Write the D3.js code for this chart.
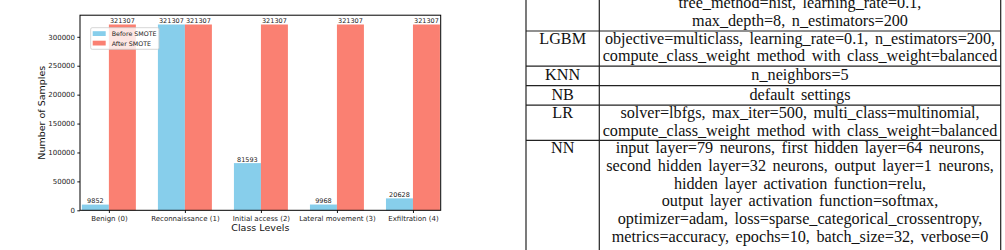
<!DOCTYPE html>
<html>
<head>
<meta charset="utf-8">
<script src="https://cdn.jsdelivr.net/npm/d3@7"></script>
<style>
  body { margin: 0; background: #fff; }
  svg { display: block; }
</style>
</head>
<body>
<div id="chart"></div>
<script>
var width = 1005
var height = 250

// bar chart data
var classes = ['Benign (0)', 'Reconnaissance (1)', 'Initial access (2)', 'Lateral movement (3)', 'Exfiltration (4)']
var beforeSmote = [9852, 321307, 81593, 9968, 20628]
var afterSmote = [321307, 321307, 321307, 321307, 321307]
var yTicks = [0, 50000, 100000, 150000, 200000, 250000, 300000]
var seriesNames = ['Before SMOTE', 'After SMOTE']

// table data (top row is cut off by the frame, its model name is not visible)
var models = ['', 'LGBM', 'KNN', 'NB', 'LR', 'NN']
var params = [
    ['tree_method=hist, learning_rate=0.1,', 'max_depth=8, n_estimators=200'],
    ['objective=multiclass, learning_rate=0.1, n_estimators=200,', 'compute_class_weight method with class_weight=balanced'],
    ['n_neighbors=5'],
    ['default settings'],
    ['solver=lbfgs, max_iter=500, multi_class=multinomial,', 'compute_class_weight method with class_weight=balanced'],
    ['input layer=79 neurons, first hidden layer=64 neurons,', 'second hidden layer=32 neurons, output layer=1 neurons,',
     'hidden layer activation function=relu,', 'output layer activation function=softmax,',
     'optimizer=adam, loss=sparse_categorical_crossentropy,', 'metrics=accuracy, epochs=10, batch_size=32, verbose=0']
]

var blue = '#87ceeb'
var salmon = '#fa8072'

var svg = d3.select('#chart').append('svg')
    .attr('width', width)
    .attr('height', height)

// ---------- bar chart ----------
var plot = { left: 80, right: 440.7, top: 15.2, bottom: 210.3 }

var xScale = d3.scaleLinear()
    .domain([-0.38, 4.365])
    .range([plot.left, plot.right])

var yScale = d3.scaleLinear()
    .domain([0, 321307 * 1.05])
    .range([plot.bottom, plot.top])

var barW = 0.355

var g = svg.append('g').style('font-family', 'DejaVu Sans, sans-serif')

var bars = g.append('g')
bars.selectAll('rect.before')
    .data(beforeSmote)
    .enter().append('rect')
    .attr('class', 'before')
    .attr('x', (d, i) => xScale(i - barW))
    .attr('width', xScale(barW) - xScale(0))
    .attr('y', d => yScale(d))
    .attr('height', d => yScale(0) - yScale(d))
    .attr('fill', blue)

bars.selectAll('rect.after')
    .data(afterSmote)
    .enter().append('rect')
    .attr('class', 'after')
    .attr('x', (d, i) => xScale(i))
    .attr('width', xScale(barW) - xScale(0))
    .attr('y', d => yScale(d))
    .attr('height', d => yScale(0) - yScale(d))
    .attr('fill', salmon)

// value labels
var labels = g.append('g')
    .attr('font-size', 6.5)
    .attr('fill', '#222')
    .attr('text-anchor', 'middle')

labels.selectAll('text.before')
    .data(beforeSmote)
    .enter().append('text')
    .attr('x', (d, i) => xScale(i - barW / 2))
    .attr('y', d => yScale(d) - 1.5)
    .text(d => d)

labels.selectAll('text.after')
    .data(afterSmote)
    .enter().append('text')
    .attr('x', (d, i) => xScale(i + barW / 2))
    .attr('y', d => yScale(d) - 1.5)
    .text(d => d)

// axes
var yAxis = d3.axisLeft(yScale)
    .tickValues(yTicks)
    .tickFormat(d3.format('d'))
    .tickSize(2.7)
    .tickPadding(2.3)

var xAxis = d3.axisBottom(xScale)
    .tickValues(d3.range(classes.length))
    .tickFormat(i => classes[i])
    .tickSize(2.7)
    .tickPadding(3)

var gy = g.append('g')
    .attr('transform', `translate(${plot.left},0)`)
    .call(yAxis)
var gx = g.append('g')
    .attr('transform', `translate(0,${plot.bottom})`)
    .call(xAxis)

;[gx, gy].forEach(a => {
    a.select('.domain').remove()
    a.selectAll('text').attr('font-size', 7).attr('font-family', 'DejaVu Sans, sans-serif').attr('fill', '#222')
    a.selectAll('line').attr('stroke', '#000').attr('stroke-width', 0.9)
})

// spines
g.append('rect')
    .attr('x', plot.left)
    .attr('y', plot.top)
    .attr('width', plot.right - plot.left)
    .attr('height', plot.bottom - plot.top)
    .attr('fill', 'none')
    .attr('stroke', '#000')
    .attr('stroke-width', 1)

// axis titles
g.append('text')
    .attr('x', (plot.left + plot.right) / 2)
    .attr('y', 231.2)
    .attr('text-anchor', 'middle')
    .attr('font-size', 9.5)
    .attr('fill', '#111')
    .text('Class Levels')

g.append('text')
    .attr('transform', `translate(44.6,${(plot.top + plot.bottom) / 2}) rotate(-90)`)
    .attr('text-anchor', 'middle')
    .attr('font-size', 9.5)
    .attr('fill', '#111')
    .text('Number of Samples')

// legend
var legend = g.append('g').attr('transform', 'translate(90.7,27.7)')
legend.append('rect')
    .attr('width', 68.3)
    .attr('height', 21.6)
    .attr('rx', 1.5)
    .attr('fill', '#fff')
    .attr('fill-opacity', 0.8)
    .attr('stroke', '#ccc')
    .attr('stroke-width', 0.8)

var items = legend.selectAll('g.item')
    .data(seriesNames)
    .enter().append('g')
    .attr('class', 'item')
    .attr('transform', (d, i) => `translate(2,${3.5 + i * 9.5})`)
items.append('rect')
    .attr('width', 13)
    .attr('height', 4.8)
    .attr('fill', (d, i) => i === 0 ? blue : salmon)
items.append('text')
    .attr('x', 19)
    .attr('y', 4.9)
    .attr('font-size', 6.3)
    .attr('fill', '#222')
    .text(d => d)

// ---------- table ----------
var colX = [526, 599.3, 1000.7]
var lineH = 17.8
var fontSize = 16.2

var rowHeights = params.map(p => Math.max(19.5, p.length * lineH - 0.4))
// the LGBM row starts at y=31, rows before it go up out of the frame
var rowTops = []
var y0 = 31 - rowHeights[0]
rowHeights.forEach((h, i) => { rowTops.push(y0); y0 += h })

var tbl = svg.append('g')
    .style('font-family', '"Liberation Serif", "Times New Roman", serif')
    .style('word-spacing', '2.5px')
    .attr('font-size', fontSize)
    .attr('fill', '#111')

var rows = tbl.selectAll('g.row')
    .data(params)
    .enter().append('g')
    .attr('class', 'row')
    .attr('transform', (d, i) => `translate(0,${rowTops[i]})`)

function firstBase(i) {
    var n = params[i].length
    return n === 1 ? 13.8 : 12.6
}

rows.append('text')
    .attr('x', (colX[0] + colX[1]) / 2)
    .attr('y', (d, i) => firstBase(i))
    .attr('text-anchor', 'middle')
    .text((d, i) => models[i])

rows.each(function (d, i) {
    d3.select(this).selectAll('text.p')
        .data(d)
        .enter().append('text')
        .attr('class', 'p')
        .attr('x', (colX[1] + colX[2]) / 2)
        .attr('y', (t, j) => firstBase(i) + j * lineH)
        .attr('text-anchor', 'middle')
        .text(t => t)
})

// rules between rows (the closing rule of the last row is below the frame)
var rules = tbl.append('g').attr('stroke', '#222').attr('stroke-width', 1.2)
rules.selectAll('line.h')
    .data(rowTops.slice(1))
    .enter().append('line')
    .attr('x1', colX[0]).attr('x2', colX[2])
    .attr('y1', d => d).attr('y2', d => d)
rules.selectAll('line.v')
    .data(colX)
    .enter().append('line')
    .attr('x1', d => d).attr('x2', d => d)
    .attr('y1', 0).attr('y2', height)
</script>
</body>
</html>
